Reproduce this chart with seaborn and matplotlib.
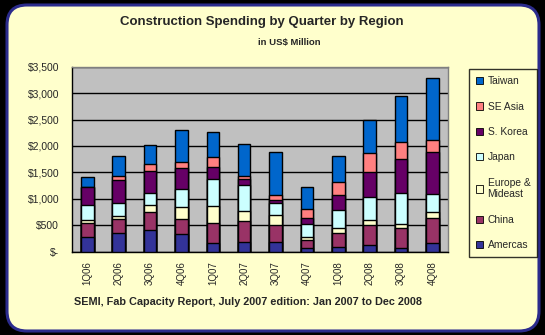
import matplotlib
matplotlib.use("Agg")
import matplotlib.pyplot as plt
from matplotlib.patches import FancyBboxPatch, Patch
from matplotlib.ticker import FuncFormatter, MultipleLocator
import numpy as np
import pandas as pd
import seaborn as sns

quarters = ["1Q06", "2Q06", "3Q06", "4Q06", "1Q07", "2Q07", "3Q07", "4Q07",
            "1Q08", "2Q08", "3Q08", "4Q08"]
americas = [270, 347, 404, 328, 158, 189, 189, 63, 82, 120, 63, 158]
china = [280, 265, 340, 284, 378, 385, 309, 151, 265, 378, 378, 473]
europe = [50, 56, 145, 227, 322, 189, 189, 57, 94, 95, 82, 119]
japan = [290, 246, 215, 340, 523, 492, 227, 252, 341, 435, 581, 335]
skorea = [335, 436, 428, 398, 214, 113, 57, 108, 284, 473, 643, 794]
seasia = [0, 75, 120, 126, 190, 57, 95, 170, 246, 359, 321, 227]
taiwan = [185, 385, 360, 592, 473, 606, 826, 416, 492, 625, 871, 1173]

legend_names = ["Amercas", "China", "Europe &\nMideast", "Japan", "S. Korea", "SE Asia", "Taiwan"]
series_vals = [americas, china, europe, japan, skorea, seasia, taiwan]
colors = ["#333399", "#993366", "#FFFFCC", "#CCFFFF", "#660066", "#FF8080", "#0066CC"]

sns.set_style("white")
plt.rcParams["font.family"] = ["Liberation Sans", "DejaVu Sans"]

fig = plt.figure(figsize=(5.45, 3.35), dpi=100)
fig.patch.set_facecolor("black")
panel = FancyBboxPatch((0.07, 0.04), 5.32, 3.26,
                       boxstyle="round,pad=0,rounding_size=0.2",
                       transform=fig.dpi_scale_trans,
                       facecolor="#FFFFCC", edgecolor="#2B2B8C", linewidth=2.2,
                       zorder=-5)
fig.patches.append(panel)

ax = fig.add_axes([0.1316, 0.2487, 0.6905, 0.5522])
ax.set_facecolor("#C0C0C0")

cum = np.zeros(len(quarters))
cums = []
for vals in series_vals:
    cum = cum + np.array(vals, dtype=float)
    cums.append(cum.copy())

for i in range(len(series_vals) - 1, -1, -1):
    d = pd.DataFrame({"quarter": quarters, "value": cums[i]})
    sns.barplot(data=d, x="quarter", y="value", order=quarters, color=colors[i],
                width=0.4, edgecolor="black", linewidth=1.0, saturation=1,
                ax=ax, zorder=3)

ax.set_xlim(-0.5, len(quarters) - 0.5)
ax.set_ylim(0, 3500)
ax.yaxis.set_major_locator(MultipleLocator(500))
ax.yaxis.set_major_formatter(FuncFormatter(lambda v, p: "$-" if v == 0 else "${:,.0f}".format(v)))
ax.grid(axis="y", color="black", linewidth=1.0, zorder=0)
ax.set_axisbelow(True)
ax.set_xlabel("")
ax.set_ylabel("")
for s in ["top", "right"]:
    ax.spines[s].set_color("#808080")
    ax.spines[s].set_linewidth(1.0)
for s in ["left", "bottom"]:
    ax.spines[s].set_color("black")
    ax.spines[s].set_linewidth(1.0)

ax.set_xticks(range(len(quarters)))
ax.set_xticklabels(quarters, rotation=90, fontsize=7.0)
ax.tick_params(axis="x", length=0, pad=7)
ax.set_xticks(np.arange(-0.5, len(quarters), 1), minor=True)
ax.tick_params(axis="x", which="minor", length=4, width=1, color="black", direction="out")
ax.tick_params(axis="y", length=4, width=1, color="black", direction="out", labelsize=7.5, pad=5)

handles = [Patch(facecolor=colors[i], edgecolor="black", linewidth=0.6, label=legend_names[i])
           for i in range(len(colors) - 1, -1, -1)]
leg = fig.legend(handles=handles, loc="upper left", bbox_to_anchor=(469 / 545, 1 - 69 / 335),
                 frameon=True, fancybox=False, fontsize=7.4, handlelength=0.7,
                 handleheight=0.7, handletextpad=0.4, labelspacing=1.5,
                 borderpad=0.7, borderaxespad=0)
leg.get_frame().set_edgecolor("black")
leg.get_frame().set_facecolor("#FFFFCC")
leg.get_frame().set_linewidth(1.0)

fig.text(262 / 545, 1 - 22 / 335, "Construction Spending by Quarter by Region",
         ha="center", va="center", fontsize=9.5, fontweight="bold")
fig.text(289 / 545, 1 - 42 / 335, "in US$ Million",
         ha="center", va="center", fontsize=6.8, fontweight="bold")
fig.text(248 / 545, 1 - 302 / 335, "SEMI, Fab Capacity Report, July 2007 edition: Jan 2007 to Dec 2008",
         ha="center", va="center", fontsize=7.8, fontweight="bold")

fig.savefig("out.png", dpi=100, facecolor=fig.get_facecolor())
